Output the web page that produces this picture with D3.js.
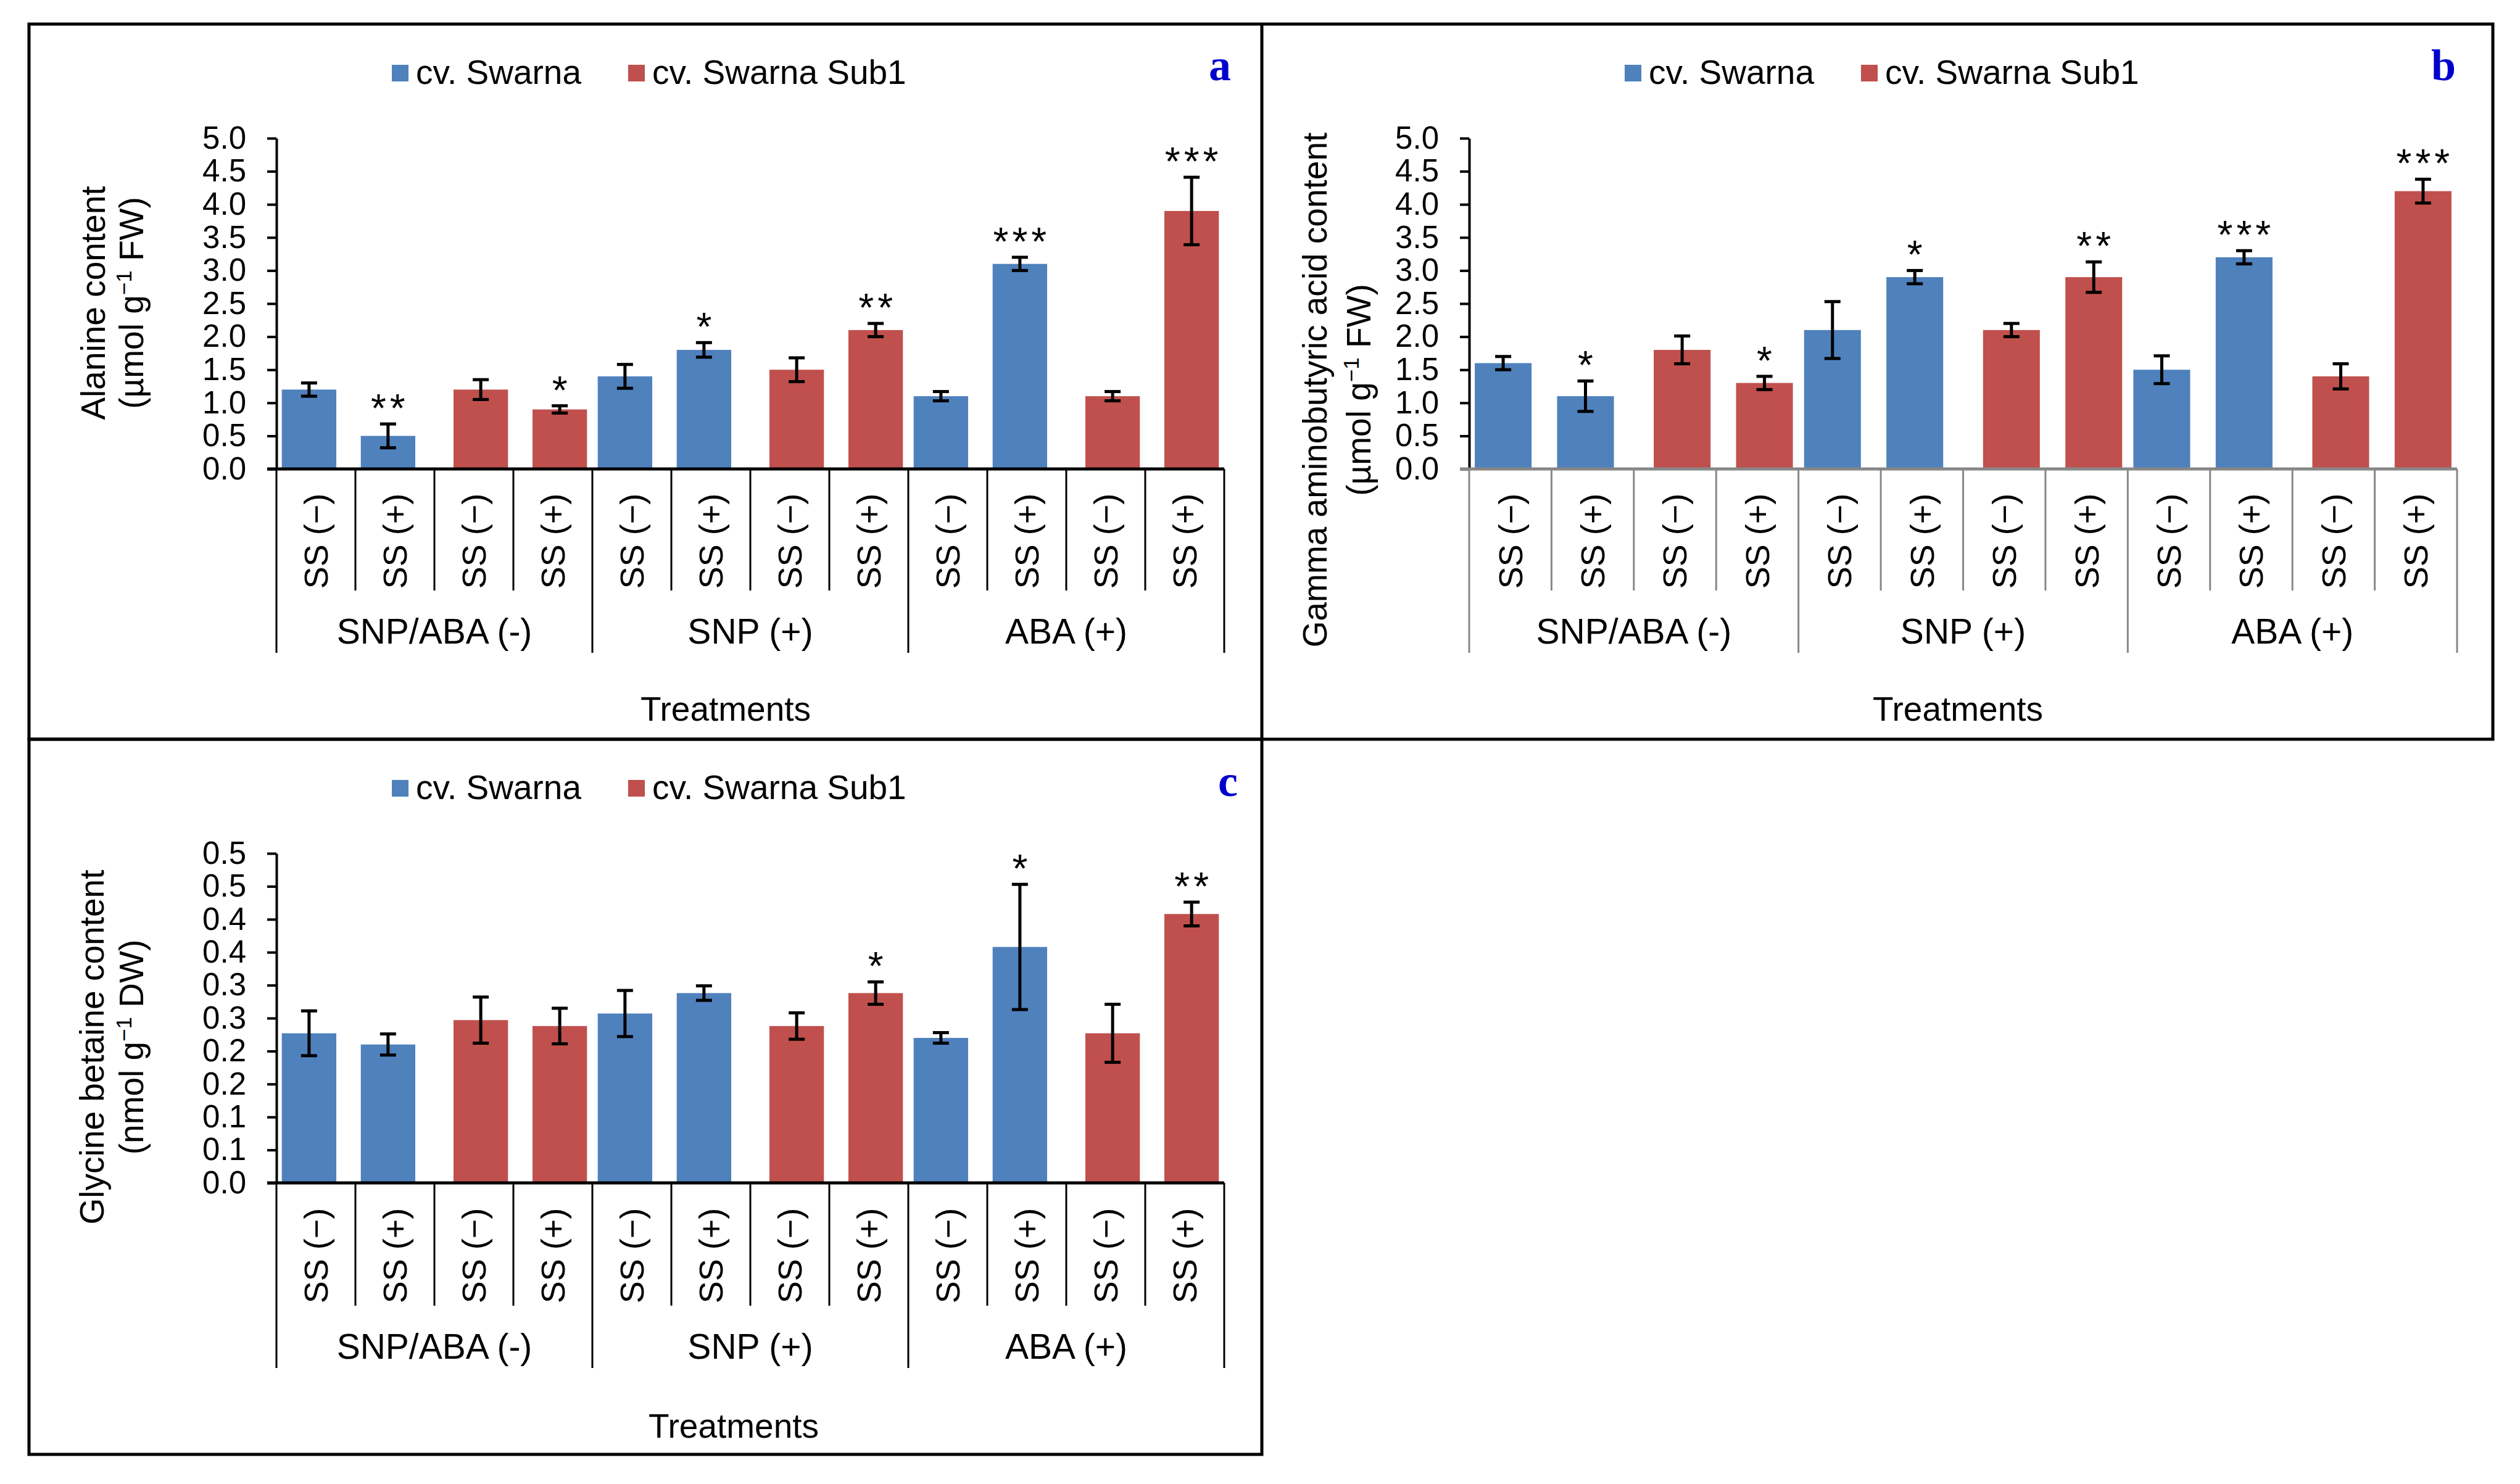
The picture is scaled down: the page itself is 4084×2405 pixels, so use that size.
<!DOCTYPE html>
<html>
<head>
<meta charset="utf-8">
<script src="https://cdn.jsdelivr.net/npm/d3@7"></script>
<style>
  body { margin: 0; background: #fff; }
  text { font-family: "Liberation Sans", Arial, sans-serif; fill: #000; }
</style>
</head>
<body>
<div id="chart"></div>
<script>
// x axis: 12 bars, 3 treatment groups
var categories = ["SS (−)", "SS (+)", "SS (−)", "SS (+)",
                  "SS (−)", "SS (+)", "SS (−)", "SS (+)",
                  "SS (−)", "SS (+)", "SS (−)", "SS (+)"];
var groups = ["SNP/ABA (-)", "SNP (+)", "ABA (+)"];
var cultivars = ["cv. Swarna", "cv. Swarna Sub1"];
var cultivarOf = [0, 0, 1, 1, 0, 0, 1, 1, 0, 0, 1, 1];
var colors = ["#4F81BD", "#C0504D"];

// panel a - alanine
var alanine    = [1.2, 0.5, 1.2, 0.9, 1.4, 1.8, 1.5, 2.1, 1.1, 3.1, 1.1, 3.9];
var alanineErr = [0.1, 0.18, 0.15, 0.055, 0.18, 0.11, 0.18, 0.1, 0.07, 0.1, 0.07, 0.51];
var alanineSig = ["", "**", "", "*", "", "*", "", "**", "", "***", "", "***"];

// panel b - GABA
var gaba    = [1.6, 1.1, 1.8, 1.3, 2.1, 2.9, 2.1, 2.9, 1.5, 3.2, 1.4, 4.2];
var gabaErr = [0.1, 0.23, 0.21, 0.1, 0.43, 0.1, 0.1, 0.23, 0.21, 0.1, 0.19, 0.18];
var gabaSig = ["", "*", "", "*", "", "*", "", "**", "", "***", "", "***"];

// panel c - glycine betaine
var betaine    = [0.227, 0.21, 0.247, 0.238, 0.257, 0.288, 0.238, 0.288, 0.22, 0.358, 0.227, 0.408];
var betaineErr = [0.034, 0.016, 0.035, 0.027, 0.035, 0.011, 0.02, 0.017, 0.008, 0.095, 0.044, 0.018];
var betaineSig = ["", "", "", "", "", "", "", "*", "", "*", "", "**"];

// y ticks
var ticksAB = [0, 0.5, 1, 1.5, 2, 2.5, 3, 3.5, 4, 4.5, 5];
var tickLabelsAB = ["0.0", "0.5", "1.0", "1.5", "2.0", "2.5", "3.0", "3.5", "4.0", "4.5", "5.0"];
var ticksC = [0, 0.05, 0.1, 0.15, 0.2, 0.25, 0.3, 0.35, 0.4, 0.45, 0.5];
var tickLabelsC = ["0.0", "0.1", "0.1", "0.2", "0.2", "0.3", "0.3", "0.4", "0.4", "0.5", "0.5"];

var svg = d3.select("#chart")
  .append("svg")
  .attr("width", 4084)
  .attr("height", 2405);

svg.append("rect").attr("width", 4084).attr("height", 2405).attr("fill", "#fff");

function drawPanel(p) {
  var g = svg.append("g")
    .attr("transform", `translate(${p.ox}, ${p.oy})`);

  var x = d3.scaleBand()
    .domain(d3.range(categories.length))
    .range([p.left, p.right]);

  var y = d3.scaleLinear()
    .domain([0, p.max])
    .range([p.bottom, p.top]);

  var bw = x.bandwidth() * 0.69;
  var off = x.bandwidth() * 0.087;
  var cx = i => x(i) + x.bandwidth() / 2 + (cultivarOf[i] === 0 ? -off : off);

  // bars
  g.selectAll(".bar")
    .data(p.values)
    .enter()
    .append("rect")
    .attr("x", (d, i) => cx(i) - bw / 2)
    .attr("y", d => y(d))
    .attr("width", bw)
    .attr("height", d => y(0) - y(d))
    .attr("fill", (d, i) => colors[cultivarOf[i]]);

  // error bars
  var eb = g.selectAll(".err")
    .data(p.values)
    .enter()
    .append("g")
    .attr("stroke", "#000")
    .attr("stroke-width", 5);
  eb.append("line")
    .attr("x1", (d, i) => cx(i)).attr("x2", (d, i) => cx(i))
    .attr("y1", (d, i) => y(d + p.err[i])).attr("y2", (d, i) => y(d - p.err[i]));
  eb.append("line")
    .attr("x1", (d, i) => cx(i) - 13).attr("x2", (d, i) => cx(i) + 13)
    .attr("y1", (d, i) => y(d + p.err[i])).attr("y2", (d, i) => y(d + p.err[i]));
  eb.append("line")
    .attr("x1", (d, i) => cx(i) - 13).attr("x2", (d, i) => cx(i) + 13)
    .attr("y1", (d, i) => y(d - p.err[i])).attr("y2", (d, i) => y(d - p.err[i]));

  // significance stars
  g.selectAll(".sig")
    .data(p.values)
    .enter()
    .append("text")
    .attr("x", (d, i) => cx(i) + 3)
    .attr("y", (d, i) => y(d + p.err[i]) - 3)
    .attr("text-anchor", "middle")
    .attr("font-size", "64px")
    .attr("letter-spacing", "6px")
    .text((d, i) => p.sig[i]);

  // y axis
  var leftAxis = d3.axisLeft(y)
    .tickValues(p.ticks)
    .tickFormat((d, i) => p.tickLabels[i])
    .tickSize(15)
    .tickSizeOuter(0)
    .tickPadding(34);
  var ya = g.append("g")
    .attr("transform", `translate(${p.left}, 0)`)
    .call(leftAxis);
  ya.select(".domain").attr("stroke", "#000").attr("stroke-width", 4);
  ya.selectAll(".tick line").attr("stroke", "#000").attr("stroke-width", 4);
  ya.selectAll(".tick text")
    .attr("font-family", "Liberation Sans, Arial, sans-serif")
    .attr("font-size", "51px")
    .attr("fill", "#000");

  // x axis line and category separators
  var edges = d3.range(categories.length + 1).map(i => p.left + i * x.step());
  g.selectAll(".sep")
    .data(edges)
    .enter()
    .append("line")
    .attr("x1", d => d).attr("x2", d => d)
    .attr("y1", y(0))
    .attr("y2", (d, i) => i % 4 === 0 ? p.groupSepY : p.sepY)
    .attr("stroke", p.axisColor)
    .attr("stroke-width", 3);

  g.append("line")
    .attr("x1", p.left - 15).attr("x2", p.right)
    .attr("y1", y(0)).attr("y2", y(0))
    .attr("stroke", p.axisColor)
    .attr("stroke-width", 5);

  g.selectAll(".cat")
    .data(categories)
    .enter()
    .append("text")
    .attr("transform", (d, i) => `translate(${x(i) + x.bandwidth() / 2}, ${p.catY}) rotate(-90)`)
    .attr("text-anchor", "middle")
    .attr("dy", "0.35em")
    .attr("font-size", "54px")
    .text(d => d);

  g.selectAll(".grp")
    .data(groups)
    .enter()
    .append("text")
    .attr("x", (d, i) => (edges[i * 4] + edges[i * 4 + 4]) / 2)
    .attr("y", p.groupY)
    .attr("text-anchor", "middle")
    .attr("font-size", "57px")
    .text(d => d);

  g.append("text")
    .attr("x", p.trX)
    .attr("y", p.trY)
    .attr("text-anchor", "middle")
    .attr("font-size", "55px")
    .text("Treatments");

  // y axis title (two lines)
  g.append("text")
    .attr("transform", `translate(${p.titleX1}, ${p.titleY}) rotate(-90)`)
    .attr("text-anchor", "middle")
    .attr("font-size", "55px")
    .text(p.title);
  var t2 = g.append("text")
    .attr("transform", `translate(${p.titleX2}, ${p.titleY}) rotate(-90)`)
    .attr("text-anchor", "middle")
    .attr("font-size", "55px");
  t2.append("tspan").text(p.unit[0]);
  t2.append("tspan").attr("font-size", "35px").attr("dy", "-19").text("−1");
  t2.append("tspan").attr("dy", "19").text(p.unit[1]);

  // legend
  var lg = g.selectAll(".leg")
    .data(cultivars)
    .enter()
    .append("g")
    .attr("transform", (d, i) => `translate(${p.legendX[i]}, 66)`);
  lg.append("rect")
    .attr("width", 27).attr("height", 27)
    .attr("fill", (d, i) => colors[i]);
  lg.append("text")
    .attr("x", 39).attr("y", 31)
    .attr("font-size", "55px")
    .text(d => d);

  // panel letter
  g.append("text")
    .attr("x", p.letterX)
    .attr("y", p.letterY)
    .attr("text-anchor", "middle")
    .attr("font-weight", "bold")
    .attr("font-size", "72px")
    .style("fill", "#0000CC")
    .style("font-family", "Liberation Serif, Times New Roman, serif")
    .text(p.letter);
}

drawPanel({
  ox: 47, oy: 39, left: 401, right: 1937, top: 185, bottom: 721, max: 5,
  values: alanine, err: alanineErr, sig: alanineSig,
  ticks: ticksAB, tickLabels: tickLabelsAB,
  title: "Alanine content", unit: ["(µmol g", " FW)"],
  titleX1: 123, titleX2: 185, titleY: 452,
  catY: 838, sepY: 918, groupY: 1004, groupSepY: 1019, trX: 1129, trY: 1129,
  legendX: [588, 971], letter: "a", letterX: 1930, letterY: 91, axisColor: "#000"
});

drawPanel({
  ox: 2045, oy: 39, left: 336, right: 1937, top: 185, bottom: 721, max: 5,
  values: gaba, err: gabaErr, sig: gabaSig,
  ticks: ticksAB, tickLabels: tickLabelsAB,
  title: "Gamma  aminobutyric acid content", unit: ["(µmol g", " FW)"],
  titleX1: 105, titleX2: 176, titleY: 593,
  catY: 838, sepY: 918, groupY: 1004, groupSepY: 1019, trX: 1128, trY: 1129,
  legendX: [588, 971], letter: "b", letterX: 1915, letterY: 91, axisColor: "#878787"
});

drawPanel({
  ox: 47, oy: 1198, left: 401, right: 1937, top: 185, bottom: 719, max: 0.5,
  values: betaine, err: betaineErr, sig: betaineSig,
  ticks: ticksC, tickLabels: tickLabelsC,
  title: "Glycine betaine content", unit: ["(nmol g", " DW)"],
  titleX1: 121, titleX2: 185, titleY: 499,
  catY: 837, sepY: 918, groupY: 1004, groupSepY: 1019, trX: 1142, trY: 1132,
  legendX: [588, 971], letter: "c", letterX: 1943, letterY: 92, axisColor: "#000"
});

// panel frames
svg.append("rect")
  .attr("x", 47).attr("y", 39).attr("width", 3993).attr("height", 1159)
  .attr("fill", "none").attr("stroke", "#000").attr("stroke-width", 5);
svg.append("line")
  .attr("x1", 2045).attr("x2", 2045).attr("y1", 39).attr("y2", 1198)
  .attr("stroke", "#000").attr("stroke-width", 5);
svg.append("rect")
  .attr("x", 47).attr("y", 1198).attr("width", 1998).attr("height", 1159)
  .attr("fill", "none").attr("stroke", "#000").attr("stroke-width", 5);
</script>
</body>
</html>
